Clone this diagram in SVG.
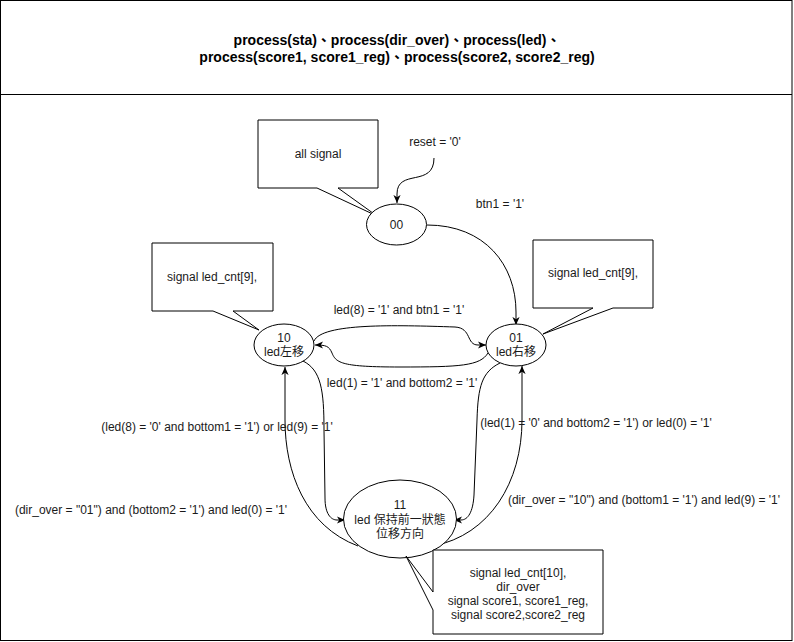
<svg xmlns="http://www.w3.org/2000/svg" width="794" height="642" viewBox="0 0 794 642">
<defs>
<style>
text{font-family:"Liberation Sans","Noto Sans CJK TC",Arial,sans-serif;font-size:12px;fill:#1a1a1a;text-anchor:middle;dominant-baseline:central}
.title{font-weight:bold;fill:#000;font-size:14px}
.shape{fill:#fff;stroke:#000;stroke-width:1}
.edge{fill:none;stroke:#000;stroke-width:1;marker-end:url(#arr)}
</style>
<marker id="arr" viewBox="0 0 10 10" refX="9" refY="5" markerWidth="9" markerHeight="9" orient="auto" markerUnits="userSpaceOnUse">
<path d="M0,1 L9,5 L0,9 L2.5,5 Z" fill="#000"/>
</marker>
</defs>
<rect width="794" height="642" fill="#fff"/>
<g id="frame">
<rect x="0.5" y="0.5" width="791.5" height="640" fill="none" stroke="#000"/>
<line x1="0.5" y1="94.5" x2="792" y2="94.5" stroke="#000"/>
<text class="title" x="397" y="40">process(sta)、process(dir_over)、process(led)、</text>
<text class="title" x="397" y="57">process(score1, score1_reg)、process(score2, score2_reg)</text>
</g>
<g id="connectors">
<path class="edge" d="M434 158 C434 188, 397 168, 397 194 L397 203"/>
<text x="435" y="142">reset = '0'</text>
<path class="edge" d="M427 225 C485 225, 516 265, 516 312 L516 325"/>
<text x="500" y="204">btn1 = '1'</text>
<path class="edge" d="M314 341 C322 323, 395 325, 455 327 C472 328, 466 345, 478 345 L486 345"/>
<text x="399" y="310">led(8) = '1' and btn1 = '1'</text>
<path class="edge" d="M488 353 C480 366, 460 367, 400 367 C342 367, 336 363, 332 353 C329 346, 326 345, 315 345"/>
<text x="402" y="383">led(1) = '1' and bottom2 = '1'</text>
<path class="edge" d="M358 546 C305 526, 285 472, 285 420 L285 367"/>
<text x="151" y="510">(dir_over = "01") and (bottom2 = '1') and led(0) = '1'</text>
<path class="edge" d="M303 361 C321 370, 324 390, 324 430 L325 498 C325 514, 331 520, 337 520 L345 520"/>
<text x="217" y="427">(led(8) = '0' and bottom1 = '1') or led(9) = '1'</text>
<path class="edge" d="M433 546 C490 535, 522 482, 522 420 L522 366"/>
<text x="644" y="500">(dir_over = "10") and (bottom1 = '1') and led(9) = '1'</text>
<path class="edge" d="M500 363 C482 372, 478 386, 477 420 L474 495 C473 512, 468 520, 461 520 L454 520"/>
<text x="596" y="423">(led(1) = '0' and bottom2 = '1') or led(0) = '1'</text>
</g>
<g id="note-all">
<path class="shape" d="M258 120 H378 V188 H338 L377 216 L317 188 H258 Z"/>
<text x="318" y="154">all signal</text>
</g>
<g id="note-left">
<path class="shape" d="M152 243 H273 V311 H233 L259 330 L213 311 H152 Z"/>
<text x="212" y="277">signal led_cnt[9],</text>
</g>
<g id="note-right">
<path class="shape" d="M533 240 H653 V308 H613 L543 334 L593 308 H533 Z"/>
<text x="593" y="273">signal led_cnt[9],</text>
</g>
<g id="state-00">
<ellipse class="shape" cx="396.5" cy="224.5" rx="30" ry="20.5"/>
<text x="396.5" y="224.5">00</text>
</g>
<g id="state-10">
<ellipse class="shape" cx="284" cy="345" rx="30" ry="21"/>
<text x="284" y="338">10</text>
<text x="284" y="352">led左移</text>
</g>
<g id="state-01">
<ellipse class="shape" cx="516" cy="345" rx="30" ry="21"/>
<text x="516" y="338">01</text>
<text x="516" y="352">led右移</text>
</g>
<g id="state-11">
<ellipse class="shape" cx="400" cy="519" rx="56.5" ry="39"/>
<text x="400" y="505">11</text>
<text x="400" y="520">led 保持前一狀態</text>
<text x="400" y="534">位移方向</text>
</g>
<g id="note-bottom">
<path class="shape" d="M433 550 H603 V634 H433 V610 L406 556 L433 592 Z"/>
<text x="518" y="573">signal led_cnt[10],</text>
<text x="518" y="587">dir_over</text>
<text x="518" y="601">signal score1, score1_reg,</text>
<text x="518" y="615">signal score2,score2_reg</text>
</g>
</svg>
